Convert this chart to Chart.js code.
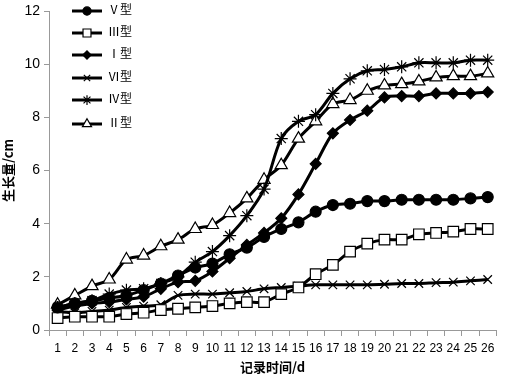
<!DOCTYPE html>
<html>
<head>
<meta charset="utf-8">
<script src="https://cdn.jsdelivr.net/npm/chart.js@4/dist/chart.umd.min.js"></script>
<style>
  body { margin: 0; background: #fff; }
  #wrap { width: 505px; height: 379px; }
</style>
</head>
<body>
<div id="wrap"><canvas id="line-chart"></canvas></div>
<script>
var days = ['1','2','3','4','5','6','7','8','9','10','11','12','13','14','15','16','17','18','19','20','21','22','23','24','25','26'];
var yTicks = [0, 2, 4, 6, 8, 10, 12];

var typeV   = [0.85,1.0,1.1,1.2,1.3,1.5,1.75,2.05,2.35,2.5,2.85,3.1,3.5,3.8,4.05,4.45,4.7,4.75,4.85,4.85,4.9,4.9,4.9,4.9,4.95,5.0];
var typeIII = [0.45,0.5,0.5,0.5,0.6,0.65,0.75,0.8,0.85,0.9,1.0,1.05,1.05,1.35,1.6,2.1,2.45,2.95,3.25,3.4,3.4,3.6,3.65,3.7,3.8,3.8];
var typeI   = [0.75,0.9,1.0,1.05,1.15,1.25,1.55,1.8,1.85,2.2,2.7,3.2,3.65,4.2,5.1,6.25,7.4,7.9,8.25,8.75,8.8,8.8,8.9,8.9,8.9,8.95];
var typeVI  = [0.7,0.65,0.7,0.75,0.85,0.9,0.95,1.3,1.35,1.35,1.4,1.45,1.55,1.6,1.65,1.7,1.7,1.7,1.7,1.72,1.75,1.75,1.78,1.8,1.85,1.9];
var typeIV  = [0.85,1.0,1.1,1.35,1.5,1.55,1.75,2.0,2.55,2.95,3.55,4.3,5.3,7.2,7.85,8.1,8.9,9.45,9.75,9.8,9.9,10.05,10.05,10.05,10.15,10.15];
var typeII  = [0.95,1.3,1.65,1.9,2.65,2.8,3.15,3.4,3.8,3.95,4.4,4.95,5.65,6.2,7.2,7.85,8.5,8.65,9.0,9.2,9.25,9.35,9.5,9.55,9.55,9.65];

function series(label, data, style, fill, radius) {
  return {
    label: label,
    data: data,
    borderColor: '#000',
    borderWidth: 3,
    pointStyle: style,
    pointRadius: radius,
    pointBackgroundColor: fill,
    pointBorderColor: '#000',
    pointBorderWidth: 1.2,
    tension: 0.3
  };
}

// legend drawn inside the plot, top left
var insideLegend = {
  id: 'insideLegend',
  afterDraw: function(chart) {
    var ctx = chart.ctx;
    var rows = [11, 33, 55, 78, 100, 124];
    chart.data.datasets.forEach(function(ds, i) {
      var y = rows[i];
      ctx.save();
      ctx.strokeStyle = '#000';
      ctx.lineWidth = 3;
      ctx.beginPath();
      ctx.moveTo(72, y);
      ctx.lineTo(102, y);
      ctx.stroke();
      ctx.fillStyle = ds.pointBackgroundColor;
      ctx.lineWidth = 1.2;
      Chart.helpers.drawPoint(ctx, {pointStyle: ds.pointStyle, radius: ds.pointRadius * 0.75, rotation: 0, borderWidth: 1.2}, 87, y);
      ctx.fillStyle = '#000';
      ctx.font = "12px 'Liberation Serif', 'Noto Sans CJK SC'";
      ctx.textBaseline = 'middle';
      ctx.fillText(ds.label, 108, y);
      ctx.restore();
    });
  }
};

new Chart(document.getElementById('line-chart'), {
  type: 'line',
  data: {
    labels: days,
    datasets: [
      series('Ⅴ型', typeV, 'circle', '#000', 5.5),
      series('Ⅲ型', typeIII, 'rect', '#fff', 7.5),
      series('Ⅰ型', typeI, 'rectRot', '#000', 5.5),
      series('Ⅵ型', typeVI, 'crossRot', '#000', 6),
      series('Ⅳ型', typeIV, 'star', '#000', 6.5),
      series('Ⅱ型', typeII, 'triangle', '#fff', 7)
    ]
  },
  options: {
    responsive: true,
    maintainAspectRatio: false,
    animation: false,
    layout: { padding: { top: 7, right: 8, left: 0, bottom: 0 } },
    plugins: {
      legend: { display: false },
      tooltip: { enabled: false }
    },
    scales: {
      x: {
        offset: true,
        grid: { offset: true, drawOnChartArea: false, color: '#999', tickLength: 6 },
        border: { color: '#999' },
        ticks: { color: '#000', font: { family: 'Liberation Sans', size: 12 }, maxRotation: 0, autoSkip: false, padding: 5 },
        title: { display: true, text: '记录时间/d', color: '#000', font: { family: "'Noto Sans CJK SC'", size: 13, weight: 'bold' }, padding: { top: 0 } },
        afterFit: function(scale) { scale.height = 49; }
      },
      y: {
        min: 0,
        max: 12,
        afterBuildTicks: function(scale) {
          scale.ticks = yTicks.map(function(v) { return { value: v }; });
        },
        grid: { drawOnChartArea: false, color: '#999', tickLength: 5 },
        border: { color: '#999' },
        ticks: { color: '#000', font: { family: "'Liberation Sans'", size: 14, lineHeight: 1 }, padding: 4 },
        title: { display: true, text: '生长量/cm', color: '#000', font: { family: "'Noto Sans CJK SC'", size: 13, weight: 'bold' }, padding: 0 },
        afterFit: function(scale) { scale.width = 49; }
      }
    }
  },
  plugins: [insideLegend]
});
</script>
</body>
</html>
